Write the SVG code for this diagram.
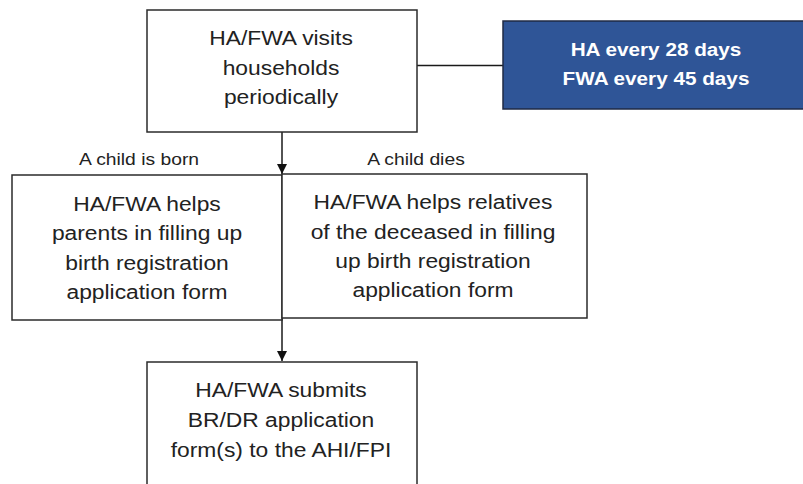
<svg xmlns="http://www.w3.org/2000/svg" width="803" height="484" viewBox="0 0 803 484">
<style>
.box{fill:#fff;stroke:#2b2b2b;stroke-width:1.5}
.blue{fill:#2f5597;stroke:#1f2a44;stroke-width:1.5}
.t{font-family:"Liberation Sans",Arial,sans-serif;font-size:19.5px;fill:#222;text-anchor:middle}
.lbl{font-family:"Liberation Sans",Arial,sans-serif;font-size:16.5px;fill:#222;text-anchor:middle}
.w{font-family:"Liberation Sans",Arial,sans-serif;font-size:18.5px;font-weight:bold;fill:#fff;text-anchor:middle}
.c{stroke:#1a1a1a;stroke-width:1.5;fill:none}
</style>
<defs>
<marker id="ah" markerWidth="10" markerHeight="10" refX="10" refY="5" orient="auto" markerUnits="userSpaceOnUse">
<path d="M0,0 L10,5 L0,10 Z" fill="#111"/>
</marker>
</defs>
<g id="connectors">
<line class="c" x1="417" y1="65.5" x2="503" y2="65.5"/>
<line class="c" x1="282" y1="132" x2="282" y2="174" marker-end="url(#ah)"/>
<line class="c" x1="282" y1="175" x2="282" y2="320" stroke-width="2.5"/>
<line class="c" x1="282" y1="320" x2="282" y2="361" marker-end="url(#ah)"/>
</g>
<g id="visits">
<rect class="box" x="147" y="10" width="270" height="122"/>
<text class="t" transform="translate(281,45) scale(1.17,1)">HA/FWA visits</text>
<text class="t" transform="translate(281,75) scale(1.17,1)">households</text>
<text class="t" transform="translate(281,104) scale(1.17,1)">periodically</text>
</g>
<g id="frequency">
<rect class="blue" x="503" y="21" width="302" height="88"/>
<text class="w" transform="translate(656,56) scale(1.12,1)">HA every 28 days</text>
<text class="w" transform="translate(656,85) scale(1.12,1)">FWA every 45 days</text>
</g>
<g id="labels">
<text class="lbl" transform="translate(139,165) scale(1.17,1)">A child is born</text>
<text class="lbl" transform="translate(416,165) scale(1.17,1)">A child dies</text>
</g>
<g id="birth">
<rect class="box" x="12" y="175" width="270" height="145"/>
<text class="t" transform="translate(147,211) scale(1.17,1)">HA/FWA helps</text>
<text class="t" transform="translate(147,240) scale(1.17,1)">parents in filling up</text>
<text class="t" transform="translate(147,270) scale(1.17,1)">birth registration</text>
<text class="t" transform="translate(147,299) scale(1.17,1)">application form</text>
</g>
<g id="death">
<rect class="box" x="282" y="174" width="305" height="144"/>
<text class="t" transform="translate(433,209) scale(1.17,1)">HA/FWA helps relatives</text>
<text class="t" transform="translate(433,239) scale(1.17,1)">of the deceased in filling</text>
<text class="t" transform="translate(433,268) scale(1.17,1)">up birth registration</text>
<text class="t" transform="translate(433,297) scale(1.17,1)">application form</text>
</g>
<g id="submit">
<rect class="box" x="147" y="362" width="270" height="140"/>
<text class="t" transform="translate(281,397) scale(1.17,1)">HA/FWA submits</text>
<text class="t" transform="translate(281,427) scale(1.17,1)">BR/DR application</text>
<text class="t" transform="translate(281,457) scale(1.17,1)">form(s) to the AHI/FPI</text>
</g>
</svg>
